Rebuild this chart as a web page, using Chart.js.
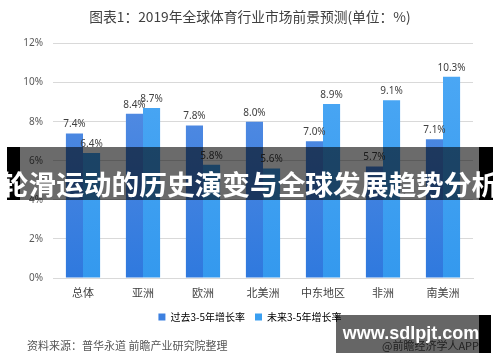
<!DOCTYPE html>
<html>
<head>
<meta charset="utf-8">
<script src="https://cdn.jsdelivr.net/npm/chart.js@4/dist/chart.umd.min.js"></script>
<style>
  html, body { margin: 0; padding: 0; background: #fff; }
  #wrap { position: relative; width: 500px; height: 362px; overflow: hidden; font-family: "Noto Sans CJK SC", "Noto Sans", sans-serif; }
  canvas { position: absolute; left: 0; top: 0; }
  .source { position: absolute; left: 27px; top: 337px; font-size: 11px; color: #555; white-space: nowrap; }
  .app { position: absolute; left: 382px; top: 337px; font-size: 11px; color: #555; white-space: nowrap; }
  .banner { position: absolute; left: 7px; top: 147px; width: 486px; height: 53px; background: rgba(0,0,0,0.58); }
  .banner .l { position: absolute; left: 0; top: 0; width: 13px; height: 53px; background: #000; }
  .banner .r { position: absolute; right: 0; top: 0; width: 14px; height: 53px; background: #000; }
  .banner-text { position: absolute; left: -20px; width: 540px; top: 165px; text-align: center; color: #fff; font-weight: bold; font-size: 27.7px; line-height: 36px; white-space: nowrap; }
  .mark { position: absolute; left: 336px; top: 315px; width: 155px; height: 38px; background: rgba(0,0,0,0.6); }
  .mark .r { position: absolute; right: 0; top: 0; width: 12px; height: 38px; background: #000; }
  .mark-text { position: absolute; left: 336px; width: 150px; top: 322px; text-align: center; color: #fff; font-family: "Liberation Sans", Arial, sans-serif; font-weight: bold; font-size: 18px; line-height: 22px; }
</style>
</head>
<body>
<div id="wrap">
  <canvas id="growthChart" width="500" height="362"></canvas>
  <div class="source">资料来源：普华永道 前瞻产业研究院整理</div>
  <div class="app">@前瞻经济学人APP</div>
  <div class="banner"><div class="l"></div><div class="r"></div></div>
  <div class="banner-text">轮滑运动的历史演变与全球发展趋势分析</div>
  <div class="mark"><div class="r"></div></div>
  <div class="mark-text">www.sdlpjt.com</div>
</div>
<script>
const regions = ['总体', '亚洲', '欧洲', '北美洲', '中东地区', '非洲', '南美洲'];
const pastGrowth = [7.4, 8.4, 7.8, 8.0, 7.0, 5.7, 7.1];
const futureGrowth = [6.4, 8.7, 5.8, 5.6, 8.9, 9.1, 10.3];
const seriesNames = ['过去3-5年增长率', '未来3-5年增长率'];

const ctx = document.getElementById('growthChart').getContext('2d');

function barGradient(top, bottom) {
    return function (context) {
        const area = context.chart.chartArea;
        if (!area) return bottom;
        const g = context.chart.ctx.createLinearGradient(0, area.top, 0, area.bottom);
        g.addColorStop(0, top);
        g.addColorStop(1, bottom);
        return g;
    };
}

// draws the % value above every bar
const valueLabels = {
    id: 'valueLabels',
    afterDatasetsDraw(chart) {
        const c = chart.ctx;
        c.save();
        c.font = '10px "Noto Sans", "DejaVu Sans", sans-serif';
        c.fillStyle = '#404040';
        c.textAlign = 'center';
        c.textBaseline = 'bottom';
        chart.data.datasets.forEach((ds, i) => {
            chart.getDatasetMeta(i).data.forEach((bar, j) => {
                c.fillText(ds.data[j].toFixed(1) + '%', bar.x, bar.y - 4);
            });
        });
        c.restore();
    }
};

new Chart(ctx, {
    type: 'bar',
    data: {
        labels: regions,
        datasets: [{
            label: seriesNames[0],
            data: pastGrowth,
            backgroundColor: barGradient('#5c90e3', '#2f79de'),
            categoryPercentage: 0.57,
            barPercentage: 1.0
        }, {
            label: seriesNames[1],
            data: futureGrowth,
            backgroundColor: barGradient('#4ea9f5', '#3499ee'),
            categoryPercentage: 0.57,
            barPercentage: 1.0
        }]
    },
    options: {
        responsive: false,
        devicePixelRatio: 1,
        animation: false,
        layout: { padding: { left: 0, right: 0, top: 0, bottom: 30 } },
        plugins: {
            title: {
                display: true,
                text: '图表1：2019年全球体育行业市场前景预测(单位：%)',
                color: '#404040',
                font: { size: 13.75, weight: 'normal', family: '"Noto Sans CJK SC"' },
                padding: { top: 9, bottom: 18 }
            },
            legend: {
                position: 'bottom',
                labels: {
                    boxWidth: 7,
                    boxHeight: 7,
                    color: '#404040',
                    font: { size: 10, family: '"Noto Sans CJK SC"' },
                    padding: 10,
                    generateLabels(chart) {
                        const cols = ['#3d80e0', '#3a9ff1'];
                        return chart.data.datasets.map((ds, i) => ({
                            text: ds.label,
                            fillStyle: cols[i],
                            strokeStyle: cols[i],
                            lineWidth: 0,
                            datasetIndex: i
                        }));
                    }
                }
            },
            tooltip: { enabled: false }
        },
        scales: {
            x: {
                grid: { display: false },
                border: { color: '#d9d9d9' },
                ticks: { color: '#404040', font: { size: 11, family: '"Noto Sans CJK SC"' }, padding: 0 },
                afterFit(scale) { scale.height = 24; }
            },
            y: {
                min: 0,
                max: 12,
                ticks: {
                    stepSize: 2,
                    color: '#595959',
                    font: { size: 10, family: '"Noto Sans", sans-serif' },
                    padding: 10,
                    callback: v => v + '%'
                },
                grid: { color: '#d9d9d9', drawTicks: false },
                border: { display: false },
                afterFit(scale) { scale.width = 53; }
            },
            // empty right-hand axis, only reserves the margin so title and legend stay centred
            yRight: {
                position: 'right',
                min: 0,
                max: 12,
                ticks: { display: false },
                grid: { display: false },
                border: { display: false },
                afterFit(scale) { scale.width = 27; }
            }
        }
    },
    plugins: [valueLabels]
});
</script>
</body>
</html>
